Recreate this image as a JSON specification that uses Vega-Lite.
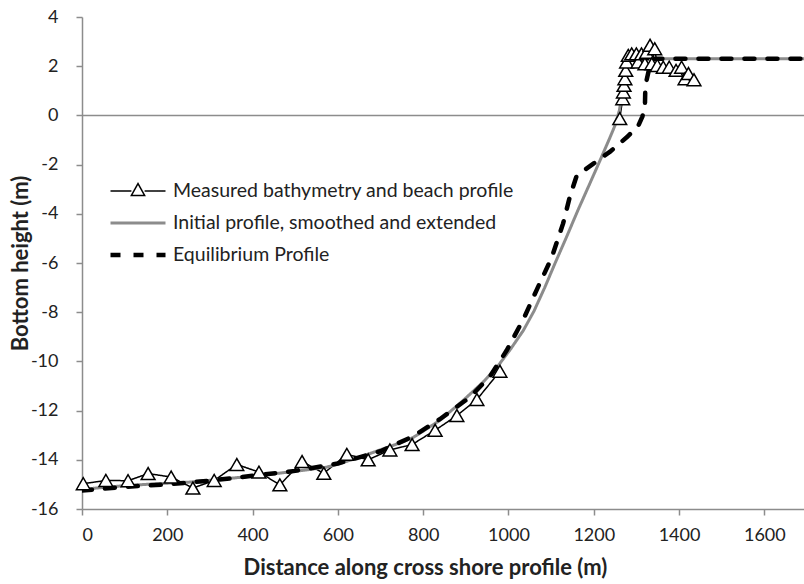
{
  "$schema": "https://vega.github.io/schema/vega-lite/v6.json",
  "width": 722,
  "height": 492,
  "autosize": {"type": "none"},
  "padding": {"left": 82, "top": 17, "right": 0, "bottom": 75},
  "background": "white",
  "config": {
    "view": {"stroke": null},
    "font": "Lato",
    "axis": {
      "grid": false,
      "domainColor": "#8c8c8c",
      "domainWidth": 1.5,
      "tickColor": "#8c8c8c",
      "tickWidth": 1.5,
      "tickSize": 6,
      "labelFont": "Lato",
      "labelFontSize": 18,
      "labelColor": "#222222",
      "titleFont": "Lato",
      "titleFontSize": 22,
      "titleFontWeight": "bold",
      "titleColor": "#222222"
    }
  },
  "datasets": {
    "lines": [
      {"series": "Measured bathymetry and beach profile", "seg": 1, "x": 3, "y": -14.97},
      {"series": "Measured bathymetry and beach profile", "seg": 1, "x": 56, "y": -14.84},
      {"series": "Measured bathymetry and beach profile", "seg": 1, "x": 108, "y": -14.85},
      {"series": "Measured bathymetry and beach profile", "seg": 1, "x": 155, "y": -14.56},
      {"series": "Measured bathymetry and beach profile", "seg": 1, "x": 209, "y": -14.7},
      {"series": "Measured bathymetry and beach profile", "seg": 1, "x": 260, "y": -15.15},
      {"series": "Measured bathymetry and beach profile", "seg": 1, "x": 310, "y": -14.84},
      {"series": "Measured bathymetry and beach profile", "seg": 1, "x": 363, "y": -14.19},
      {"series": "Measured bathymetry and beach profile", "seg": 1, "x": 415, "y": -14.5},
      {"series": "Measured bathymetry and beach profile", "seg": 1, "x": 464, "y": -15.02},
      {"series": "Measured bathymetry and beach profile", "seg": 1, "x": 516, "y": -14.07},
      {"series": "Measured bathymetry and beach profile", "seg": 1, "x": 567, "y": -14.55},
      {"series": "Measured bathymetry and beach profile", "seg": 1, "x": 621, "y": -13.78},
      {"series": "Measured bathymetry and beach profile", "seg": 1, "x": 671, "y": -14.0},
      {"series": "Measured bathymetry and beach profile", "seg": 1, "x": 722, "y": -13.6},
      {"series": "Measured bathymetry and beach profile", "seg": 1, "x": 774, "y": -13.38},
      {"series": "Measured bathymetry and beach profile", "seg": 1, "x": 828, "y": -12.8},
      {"series": "Measured bathymetry and beach profile", "seg": 1, "x": 879, "y": -12.2},
      {"series": "Measured bathymetry and beach profile", "seg": 1, "x": 926, "y": -11.55},
      {"series": "Measured bathymetry and beach profile", "seg": 1, "x": 980, "y": -10.4},
      {"series": "Measured bathymetry and beach profile", "seg": 2, "x": 1261, "y": -0.13},
      {"series": "Measured bathymetry and beach profile", "seg": 2, "x": 1268, "y": 0.68},
      {"series": "Measured bathymetry and beach profile", "seg": 2, "x": 1269.5, "y": 0.95},
      {"series": "Measured bathymetry and beach profile", "seg": 2, "x": 1271, "y": 1.22},
      {"series": "Measured bathymetry and beach profile", "seg": 2, "x": 1273, "y": 1.49},
      {"series": "Measured bathymetry and beach profile", "seg": 2, "x": 1275, "y": 1.83},
      {"series": "Measured bathymetry and beach profile", "seg": 2, "x": 1277, "y": 2.17},
      {"series": "Measured bathymetry and beach profile", "seg": 2, "x": 1281, "y": 2.44},
      {"series": "Measured bathymetry and beach profile", "seg": 2, "x": 1289, "y": 2.5},
      {"series": "Measured bathymetry and beach profile", "seg": 2, "x": 1300, "y": 2.5},
      {"series": "Measured bathymetry and beach profile", "seg": 2, "x": 1304, "y": 2.17},
      {"series": "Measured bathymetry and beach profile", "seg": 2, "x": 1312, "y": 2.5},
      {"series": "Measured bathymetry and beach profile", "seg": 2, "x": 1320, "y": 2.1},
      {"series": "Measured bathymetry and beach profile", "seg": 2, "x": 1324, "y": 2.57},
      {"series": "Measured bathymetry and beach profile", "seg": 2, "x": 1332, "y": 2.85},
      {"series": "Measured bathymetry and beach profile", "seg": 2, "x": 1336, "y": 2.1},
      {"series": "Measured bathymetry and beach profile", "seg": 2, "x": 1343, "y": 2.71},
      {"series": "Measured bathymetry and beach profile", "seg": 2, "x": 1349, "y": 2.03},
      {"series": "Measured bathymetry and beach profile", "seg": 2, "x": 1363, "y": 1.96},
      {"series": "Measured bathymetry and beach profile", "seg": 2, "x": 1377, "y": 1.96},
      {"series": "Measured bathymetry and beach profile", "seg": 2, "x": 1393, "y": 1.83},
      {"series": "Measured bathymetry and beach profile", "seg": 2, "x": 1406, "y": 1.96},
      {"series": "Measured bathymetry and beach profile", "seg": 2, "x": 1414, "y": 1.49},
      {"series": "Measured bathymetry and beach profile", "seg": 2, "x": 1422, "y": 1.7},
      {"series": "Measured bathymetry and beach profile", "seg": 2, "x": 1435, "y": 1.45},
      {"series": "Initial profile, smoothed and extended", "seg": 1, "x": 0, "y": -15.2},
      {"series": "Initial profile, smoothed and extended", "seg": 1, "x": 100, "y": -15.05},
      {"series": "Initial profile, smoothed and extended", "seg": 1, "x": 200, "y": -14.95},
      {"series": "Initial profile, smoothed and extended", "seg": 1, "x": 260, "y": -14.9},
      {"series": "Initial profile, smoothed and extended", "seg": 1, "x": 350, "y": -14.75},
      {"series": "Initial profile, smoothed and extended", "seg": 1, "x": 417, "y": -14.63},
      {"series": "Initial profile, smoothed and extended", "seg": 1, "x": 500, "y": -14.47},
      {"series": "Initial profile, smoothed and extended", "seg": 1, "x": 574, "y": -14.3},
      {"series": "Initial profile, smoothed and extended", "seg": 1, "x": 605, "y": -14.15},
      {"series": "Initial profile, smoothed and extended", "seg": 1, "x": 650, "y": -13.9},
      {"series": "Initial profile, smoothed and extended", "seg": 1, "x": 699, "y": -13.6},
      {"series": "Initial profile, smoothed and extended", "seg": 1, "x": 740, "y": -13.35},
      {"series": "Initial profile, smoothed and extended", "seg": 1, "x": 776, "y": -13.1},
      {"series": "Initial profile, smoothed and extended", "seg": 1, "x": 839, "y": -12.4},
      {"series": "Initial profile, smoothed and extended", "seg": 1, "x": 893, "y": -11.6},
      {"series": "Initial profile, smoothed and extended", "seg": 1, "x": 940, "y": -10.85},
      {"series": "Initial profile, smoothed and extended", "seg": 1, "x": 973, "y": -10.24},
      {"series": "Initial profile, smoothed and extended", "seg": 1, "x": 1005, "y": -9.5},
      {"series": "Initial profile, smoothed and extended", "seg": 1, "x": 1035, "y": -8.74},
      {"series": "Initial profile, smoothed and extended", "seg": 1, "x": 1060, "y": -7.95},
      {"series": "Initial profile, smoothed and extended", "seg": 1, "x": 1085, "y": -7.0},
      {"series": "Initial profile, smoothed and extended", "seg": 1, "x": 1110, "y": -5.98},
      {"series": "Initial profile, smoothed and extended", "seg": 1, "x": 1136, "y": -4.95},
      {"series": "Initial profile, smoothed and extended", "seg": 1, "x": 1163, "y": -3.85},
      {"series": "Initial profile, smoothed and extended", "seg": 1, "x": 1190, "y": -2.8},
      {"series": "Initial profile, smoothed and extended", "seg": 1, "x": 1215, "y": -1.82},
      {"series": "Initial profile, smoothed and extended", "seg": 1, "x": 1238, "y": -0.9},
      {"series": "Initial profile, smoothed and extended", "seg": 1, "x": 1250, "y": -0.4},
      {"series": "Initial profile, smoothed and extended", "seg": 1, "x": 1260, "y": 0.2},
      {"series": "Initial profile, smoothed and extended", "seg": 1, "x": 1270, "y": 1.2},
      {"series": "Initial profile, smoothed and extended", "seg": 1, "x": 1280, "y": 2.3},
      {"series": "Initial profile, smoothed and extended", "seg": 1, "x": 1290, "y": 2.3},
      {"series": "Initial profile, smoothed and extended", "seg": 1, "x": 1700, "y": 2.3},
      {"series": "Equilibrium Profile", "seg": 1, "x": 0, "y": -15.25},
      {"series": "Equilibrium Profile", "seg": 1, "x": 100, "y": -15.1},
      {"series": "Equilibrium Profile", "seg": 1, "x": 200, "y": -15.0},
      {"series": "Equilibrium Profile", "seg": 1, "x": 300, "y": -14.85},
      {"series": "Equilibrium Profile", "seg": 1, "x": 400, "y": -14.65},
      {"series": "Equilibrium Profile", "seg": 1, "x": 500, "y": -14.45},
      {"series": "Equilibrium Profile", "seg": 1, "x": 600, "y": -14.15},
      {"series": "Equilibrium Profile", "seg": 1, "x": 700, "y": -13.65},
      {"series": "Equilibrium Profile", "seg": 1, "x": 776, "y": -13.05},
      {"series": "Equilibrium Profile", "seg": 1, "x": 839, "y": -12.35},
      {"series": "Equilibrium Profile", "seg": 1, "x": 910, "y": -11.45},
      {"series": "Equilibrium Profile", "seg": 1, "x": 957, "y": -10.6},
      {"series": "Equilibrium Profile", "seg": 1, "x": 996, "y": -9.55},
      {"series": "Equilibrium Profile", "seg": 1, "x": 1036, "y": -8.25},
      {"series": "Equilibrium Profile", "seg": 1, "x": 1066, "y": -7.1},
      {"series": "Equilibrium Profile", "seg": 1, "x": 1101, "y": -5.8},
      {"series": "Equilibrium Profile", "seg": 1, "x": 1128, "y": -4.4},
      {"series": "Equilibrium Profile", "seg": 1, "x": 1144, "y": -3.3},
      {"series": "Equilibrium Profile", "seg": 1, "x": 1160, "y": -2.45},
      {"series": "Equilibrium Profile", "seg": 1, "x": 1200, "y": -1.95},
      {"series": "Equilibrium Profile", "seg": 1, "x": 1240, "y": -1.45},
      {"series": "Equilibrium Profile", "seg": 1, "x": 1280, "y": -0.85},
      {"series": "Equilibrium Profile", "seg": 1, "x": 1305, "y": -0.4},
      {"series": "Equilibrium Profile", "seg": 1, "x": 1314, "y": -0.05},
      {"series": "Equilibrium Profile", "seg": 1, "x": 1320, "y": 0.4},
      {"series": "Equilibrium Profile", "seg": 1, "x": 1321, "y": 1.2},
      {"series": "Equilibrium Profile", "seg": 1, "x": 1330, "y": 1.9},
      {"series": "Equilibrium Profile", "seg": 1, "x": 1334, "y": 2.3},
      {"series": "Equilibrium Profile", "seg": 1, "x": 1700, "y": 2.3}
    ]
  },
  "layer": [
    {
      "data": {"values": [{}]},
      "mark": {"type": "rule", "color": "#8c8c8c", "strokeWidth": 1.5},
      "encoding": {"y": {"datum": 0, "type": "quantitative"}}
    },
    {
      "data": {"name": "lines"},
      "mark": {"type": "line", "clip": true, "strokeCap": "round", "strokeJoin": "round"},
      "encoding": {
        "x": {"field": "x", "type": "quantitative",
          "scale": {"domain": [0, 1693], "nice": false, "zero": false},
          "axis": {"values": [0, 200, 400, 600, 800, 1000, 1200, 1400, 1600], "labelExpr": "'' + datum.value", "title": "Distance along cross shore profile (m)", "labelPadding": 11, "titlePadding": 13, "titleX": 343}},
        "y": {"field": "y", "type": "quantitative",
          "scale": {"domain": [-16, 4], "nice": false, "zero": false},
          "axis": {"values": [-16, -14, -12, -10, -8, -6, -4, -2, 0, 2, 4], "labelExpr": "'' + datum.value", "title": "Bottom height (m)", "labelPadding": 18, "titlePadding": -2}},
        "detail": {"field": "seg", "type": "nominal"},
        "stroke": {"field": "series", "type": "nominal",
          "scale": {"domain": ["Measured bathymetry and beach profile", "Initial profile, smoothed and extended", "Equilibrium Profile"], "range": ["#000000", "#8c8c8c", "#000000"]},
          "legend": {"title": null, "orient": "none", "legendX": 26, "legendY": 158, "symbolSize": 3025, "labelFont": "Lato", "labelFontSize": 19.5, "labelColor": "#222222", "labelOffset": 5, "rowPadding": 0, "clipHeight": 32, "labelLimit": 600, "padding": 0,
            "encode": {"symbols": {"update": {"shape": {"signal": "datum.value === 'Measured bathymetry and beach profile' ? 'M-1,0H-0.24M0.24,0H1M0,-0.27L0.24,0.16L-0.24,0.16Z' : 'stroke'"}, "fill": {"value": "white"}}}}}},
        "strokeDash": {"field": "series", "type": "nominal",
          "scale": {"domain": ["Measured bathymetry and beach profile", "Initial profile, smoothed and extended", "Equilibrium Profile"], "range": [[1, 0], [1, 0], [10, 13]]},
          "legend": {"title": null, "orient": "none", "legendX": 26, "legendY": 158, "symbolSize": 3025, "labelFont": "Lato", "labelFontSize": 19.5, "labelColor": "#222222", "labelOffset": 5, "rowPadding": 0, "clipHeight": 32, "labelLimit": 600, "padding": 0}},
        "strokeWidth": {"field": "series", "type": "nominal",
          "scale": {"domain": ["Measured bathymetry and beach profile", "Initial profile, smoothed and extended", "Equilibrium Profile"], "range": [1.5, 4.5, 4]},
          "legend": {"title": null, "orient": "none", "legendX": 26, "legendY": 158, "symbolSize": 3025, "labelFont": "Lato", "labelFontSize": 19.5, "labelColor": "#222222", "labelOffset": 5, "rowPadding": 0, "clipHeight": 32, "labelLimit": 600, "padding": 0}}
      }
    },
    {
      "data": {"name": "lines"},
      "transform": [{"filter": "datum.series === 'Measured bathymetry and beach profile'"}],
      "mark": {"type": "point", "shape": "triangle-up", "filled": true, "fill": "white", "stroke": "black", "strokeWidth": 1.5, "size": 190, "opacity": 1},
      "encoding": {
        "x": {"field": "x", "type": "quantitative", "title": "Distance along cross shore profile (m)"},
        "y": {"field": "y", "type": "quantitative", "title": "Bottom height (m)"}
      }
    }
  ]
}
